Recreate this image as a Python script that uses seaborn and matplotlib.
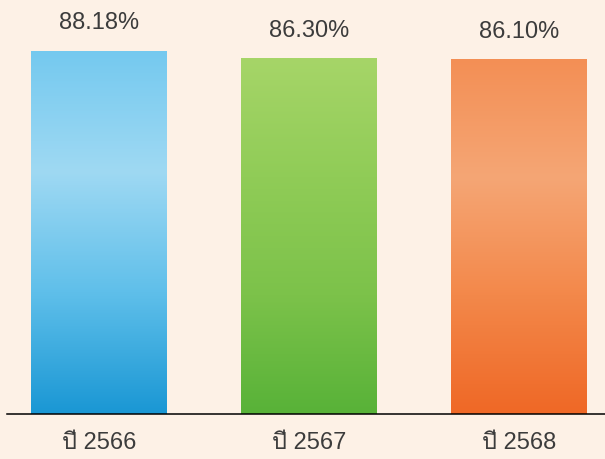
import matplotlib
matplotlib.use('Agg')
import matplotlib.pyplot as plt
import numpy as np
import pandas as pd
import seaborn as sns
from matplotlib import font_manager
from matplotlib.ft2font import FT2Font
from matplotlib.colors import LinearSegmentedColormap

years = ['ปี 2566', 'ปี 2567', 'ปี 2568']
rates = [88.18, 86.30, 86.10]
value_labels = ['88.18%', '86.30%', '86.10%']

# gradient stops for each bar, top -> bottom
bar_gradients = [
    ['#74c9ef', '#9fd9f3', '#5fbfea', '#1a97d4'],
    ['#a6d568', '#90cc57', '#7cc24a', '#58b238'],
    ['#f38f55', '#f5a675', '#f3884a', '#ef6826'],
]


def thai_font():
    found = []
    for f in font_manager.fontManager.ttflist:
        try:
            if 0x0E1B in FT2Font(f.fname).get_charmap():
                found.append(f.name)
        except Exception:
            pass
    sans = [n for n in found if 'Sans' in n or 'Looped' not in n]
    return (sans or found or ['DejaVu Sans'])[0]


sns.set_style('white')
plt.rcParams['font.family'] = ['Liberation Sans', thai_font(), 'DejaVu Sans']

df = pd.DataFrame({'year': years, 'rate': rates})

fig = plt.figure(figsize=(6.05, 4.6), dpi=100, facecolor='#fdf1e6')
ax = fig.add_axes([0.0116, 0.0978, 0.9884, 0.9022])
ax.set_facecolor('none')

sns.barplot(data=df, x='year', y='rate', hue='year', order=years,
            palette=['#1c9ad6', '#5ab33a', '#f06a28'], width=0.643,
            legend=False, ax=ax, saturation=1)

for patch, stops, lab in zip(ax.patches, bar_gradients, value_labels):
    x0, y0 = patch.get_x(), patch.get_y()
    w, h = patch.get_width(), patch.get_height()
    cmap = LinearSegmentedColormap.from_list('g', stops[::-1])
    grad = np.linspace(0, 1, 256).reshape(-1, 1)
    im = ax.imshow(grad, cmap=cmap, aspect='auto', origin='lower',
                   extent=(x0, x0 + w, y0, y0 + h), zorder=2)
    im.set_clip_path(patch)
    patch.set_facecolor('none')
    patch.set_edgecolor('none')
    ax.annotate(lab, (x0 + w / 2, y0 + h), xytext=(0, 16),
                textcoords='offset points', ha='center', va='baseline',
                fontsize=17, color='#3c3c3c')

ax.set_xlim(-0.438, 2.41)
ax.set_ylim(0, 100.7)

for s in ['top', 'right', 'left']:
    ax.spines[s].set_visible(False)
ax.spines['bottom'].set_color('black')
ax.spines['bottom'].set_linewidth(1.1)
ax.set_yticks([])
ax.set_xlabel('')
ax.set_ylabel('')
ax.tick_params(axis='x', length=0, pad=12, labelsize=17, labelcolor='#3c3c3c')

fig.savefig('out.png', dpi=100, facecolor=fig.get_facecolor())
